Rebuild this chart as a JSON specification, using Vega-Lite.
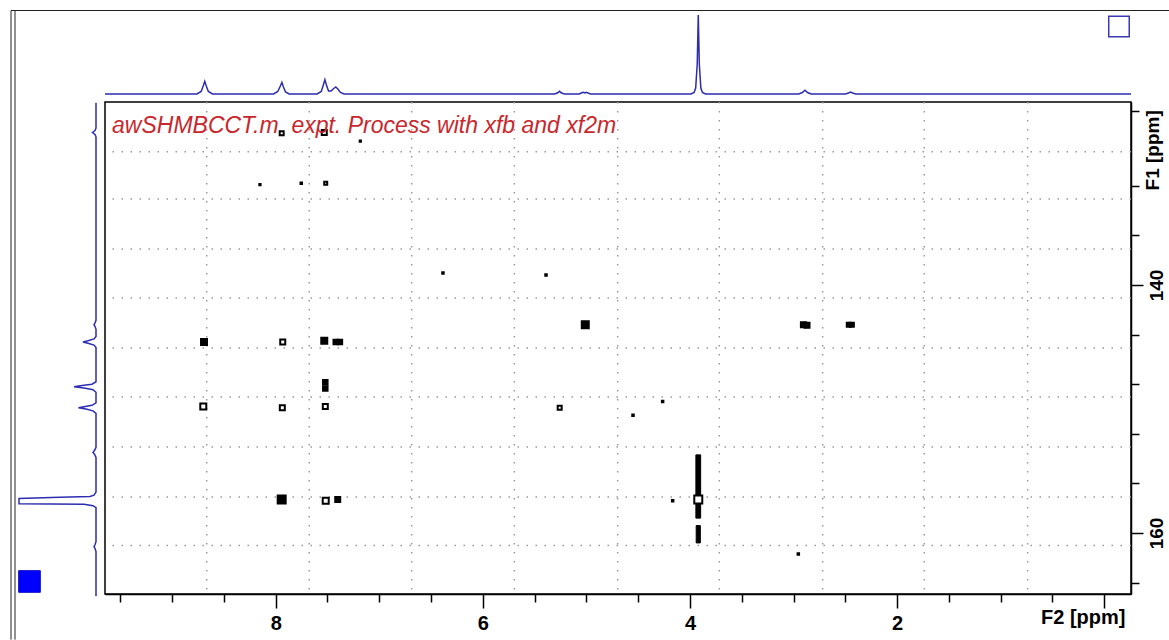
{
  "$schema": "https://vega.github.io/schema/vega-lite/v6.json",
  "padding": {"left": 8, "top": 10, "right": 0, "bottom": 0},
  "background": "white",
  "config": {"view": {"stroke": null}, "font": "Liberation Sans"},
  "columns": 2,
  "spacing": 0,
  "bounds": "flush",
  "align": "each",
  "datasets": {
    "peaks": [
      {"f2": 7.942, "f1": 127.77, "intensity": 1.6, "contour": "open"},
      {"f2": 7.531, "f1": 127.7, "intensity": 2.5, "contour": "open"},
      {"f2": 7.183, "f1": 128.4, "intensity": 0.3, "contour": "filled"},
      {"f2": 8.152, "f1": 131.9, "intensity": 0.3, "contour": "filled"},
      {"f2": 7.753, "f1": 131.8, "intensity": 0.4, "contour": "filled"},
      {"f2": 7.517, "f1": 131.8, "intensity": 0.9, "contour": "open"},
      {"f2": 6.385, "f1": 139.03, "intensity": 0.4, "contour": "filled"},
      {"f2": 5.39, "f1": 139.2, "intensity": 0.4, "contour": "filled"},
      {"f2": 5.011, "f1": 143.2, "intensity": 5.6, "contour": "filled"},
      {"f2": 2.905, "f1": 143.2, "intensity": 3.0, "contour": "filled"},
      {"f2": 2.87, "f1": 143.25, "intensity": 3.0, "contour": "filled"},
      {"f2": 2.467, "f1": 143.2, "intensity": 2.0, "contour": "filled"},
      {"f2": 2.437, "f1": 143.2, "intensity": 2.0, "contour": "filled"},
      {"f2": 8.692, "f1": 144.6, "intensity": 4.2, "contour": "filled"},
      {"f2": 7.932, "f1": 144.6, "intensity": 2.5, "contour": "open"},
      {"f2": 7.531, "f1": 144.5, "intensity": 4.2, "contour": "filled"},
      {"f2": 7.42, "f1": 144.6, "intensity": 2.5, "contour": "filled"},
      {"f2": 7.38, "f1": 144.6, "intensity": 2.5, "contour": "filled"},
      {"f2": 7.521, "f1": 147.85, "intensity": 2.5, "contour": "filled"},
      {"f2": 7.521, "f1": 148.35, "intensity": 2.5, "contour": "filled"},
      {"f2": 8.699, "f1": 149.8, "intensity": 3.6, "contour": "open"},
      {"f2": 7.936, "f1": 149.9, "intensity": 2.5, "contour": "open"},
      {"f2": 7.521, "f1": 149.8, "intensity": 2.5, "contour": "open"},
      {"f2": 5.258, "f1": 149.9, "intensity": 1.6, "contour": "open"},
      {"f2": 4.55, "f1": 150.5, "intensity": 0.4, "contour": "filled"},
      {"f2": 4.264, "f1": 149.4, "intensity": 0.4, "contour": "filled"},
      {"f2": 7.942, "f1": 157.3, "intensity": 7.2, "contour": "filled"},
      {"f2": 7.517, "f1": 157.4, "intensity": 3.6, "contour": "open"},
      {"f2": 7.401, "f1": 157.3, "intensity": 3.0, "contour": "filled"},
      {"f2": 3.92, "f1": 157.3, "intensity": 6.4, "contour": "open"},
      {"f2": 4.167, "f1": 157.4, "intensity": 0.4, "contour": "filled"},
      {"f2": 2.954, "f1": 161.7, "intensity": 0.4, "contour": "filled"}
    ]
  },
  "concat": [
    {
      "width": 97,
      "height": 92,
      "data": {"values": [{}]},
      "layer": [
        {
          "mark": {"type": "rule", "color": "#222222", "strokeWidth": 1},
          "encoding": {
            "x": {"datum": 85, "type": "quantitative", "scale": {"domain": [-9, 88], "reverse": true, "nice": false, "zero": false}, "axis": null},
            "y": {"datum": -8, "type": "quantitative", "scale": {"domain": [-8, 84], "nice": false, "zero": false}, "axis": null},
            "y2": {"datum": 83.5}
          }
        },
        {
          "mark": {"type": "rule", "color": "#222222", "strokeWidth": 1},
          "encoding": {
            "x": {"datum": 81, "type": "quantitative"},
            "y": {"datum": -8, "type": "quantitative"},
            "y2": {"datum": 83.5}
          }
        },
        {
          "mark": {"type": "rule", "color": "#222222", "strokeWidth": 1},
          "encoding": {
            "y": {"datum": 83.5, "type": "quantitative"},
            "x": {"datum": 85, "type": "quantitative"},
            "x2": {"datum": -9}
          }
        }
      ]
    },
    {
      "width": 1026,
      "height": 92,
      "layer": [
        {
          "data": {"values": [
            {"f2": 9.648, "i": 0}, {"f2": 8.76, "i": 0}, {"f2": 8.72, "i": 2.5}, {"f2": 8.7, "i": 8}, {"f2": 8.685, "i": 12.7}, {"f2": 8.67, "i": 8}, {"f2": 8.65, "i": 2.5}, {"f2": 8.61, "i": 0},
            {"f2": 8.02, "i": 0}, {"f2": 7.98, "i": 2.5}, {"f2": 7.955, "i": 8}, {"f2": 7.94, "i": 11.7}, {"f2": 7.925, "i": 7}, {"f2": 7.905, "i": 2}, {"f2": 7.87, "i": 0},
            {"f2": 7.6, "i": 0}, {"f2": 7.56, "i": 2.5}, {"f2": 7.54, "i": 9}, {"f2": 7.525, "i": 14.3}, {"f2": 7.51, "i": 9}, {"f2": 7.49, "i": 3}, {"f2": 7.465, "i": 3}, {"f2": 7.44, "i": 5.5}, {"f2": 7.42, "i": 7}, {"f2": 7.4, "i": 5}, {"f2": 7.375, "i": 1.5}, {"f2": 7.34, "i": 0},
            {"f2": 5.31, "i": 0}, {"f2": 5.28, "i": 1}, {"f2": 5.26, "i": 2.7}, {"f2": 5.24, "i": 1}, {"f2": 5.21, "i": 0},
            {"f2": 5.07, "i": 0}, {"f2": 5.045, "i": 1.2}, {"f2": 5.03, "i": 1.7}, {"f2": 5.015, "i": 1}, {"f2": 5.0, "i": 1.6}, {"f2": 4.985, "i": 1}, {"f2": 4.96, "i": 0},
            {"f2": 3.99, "i": 0}, {"f2": 3.96, "i": 1.5}, {"f2": 3.945, "i": 6}, {"f2": 3.93, "i": 30}, {"f2": 3.92, "i": 79}, {"f2": 3.91, "i": 30}, {"f2": 3.895, "i": 6}, {"f2": 3.88, "i": 1.5}, {"f2": 3.85, "i": 0},
            {"f2": 2.95, "i": 0}, {"f2": 2.915, "i": 1.5}, {"f2": 2.89, "i": 3.7}, {"f2": 2.865, "i": 1.5}, {"f2": 2.83, "i": 0},
            {"f2": 2.5, "i": 0}, {"f2": 2.47, "i": 1}, {"f2": 2.45, "i": 2}, {"f2": 2.43, "i": 1}, {"f2": 2.4, "i": 0},
            {"f2": -0.258, "i": 0}
          ]},
          "mark": {"type": "line", "color": "#2d2db0", "strokeWidth": 1.5},
          "encoding": {
            "x": {"field": "f2", "type": "quantitative", "scale": {"domain": [-0.258, 9.648], "reverse": true, "nice": false, "zero": false}, "axis": null},
            "y": {"field": "i", "type": "quantitative", "scale": {"domain": [-8, 84], "nice": false, "zero": false}, "axis": null}
          }
        },
        {
          "data": {"values": [{"f2": -0.142, "i": 67.5}]},
          "mark": {"type": "point", "shape": "square", "size": 420, "filled": false, "stroke": "#3a3ab0", "strokeWidth": 1.5, "opacity": 1},
          "encoding": {
            "x": {"field": "f2", "type": "quantitative"},
            "y": {"field": "i", "type": "quantitative"}
          }
        },
        {
          "data": {"values": [{}]},
          "mark": {"type": "rule", "color": "#222222", "strokeWidth": 1},
          "encoding": {
            "y": {"datum": 83.5, "type": "quantitative"},
            "x": {"datum": 9.648, "type": "quantitative"},
            "x2": {"datum": -0.63}
          }
        }
      ]
    },
    {
      "width": 97,
      "height": 492,
      "layer": [
        {
          "data": {"values": [
            {"f1": 125.3, "i": 0}, {"f1": 127.35, "i": 0}, {"f1": 127.55, "i": 1}, {"f1": 127.7, "i": 3.5}, {"f1": 127.85, "i": 1}, {"f1": 128.05, "i": 0},
            {"f1": 142.85, "i": 0}, {"f1": 143.05, "i": 1}, {"f1": 143.2, "i": 2}, {"f1": 143.35, "i": 1}, {"f1": 143.55, "i": 0},
            {"f1": 144.15, "i": 0}, {"f1": 144.35, "i": 2}, {"f1": 144.5, "i": 8}, {"f1": 144.6, "i": 13}, {"f1": 144.7, "i": 8}, {"f1": 144.85, "i": 2}, {"f1": 145.05, "i": 0},
            {"f1": 147.8, "i": 0}, {"f1": 148.0, "i": 4}, {"f1": 148.1, "i": 14}, {"f1": 148.2, "i": 22}, {"f1": 148.3, "i": 12}, {"f1": 148.45, "i": 3}, {"f1": 148.65, "i": 0},
            {"f1": 149.5, "i": 0}, {"f1": 149.7, "i": 4}, {"f1": 149.82, "i": 12}, {"f1": 149.9, "i": 17.5}, {"f1": 150.0, "i": 10}, {"f1": 150.15, "i": 3}, {"f1": 150.35, "i": 0},
            {"f1": 153.1, "i": 0}, {"f1": 153.35, "i": 1.5}, {"f1": 153.5, "i": 3}, {"f1": 153.65, "i": 1.5}, {"f1": 153.9, "i": 0},
            {"f1": 156.7, "i": 0}, {"f1": 156.95, "i": 2}, {"f1": 157.05, "i": 6}, {"f1": 157.12, "i": 36}, {"f1": 157.22, "i": 77}, {"f1": 157.64, "i": 77}, {"f1": 157.68, "i": 12}, {"f1": 157.8, "i": 3}, {"f1": 157.95, "i": 0},
            {"f1": 160.7, "i": 0}, {"f1": 160.95, "i": 1}, {"f1": 161.1, "i": 2}, {"f1": 161.25, "i": 1}, {"f1": 161.5, "i": 0},
            {"f1": 165.1, "i": 0}
          ]},
          "mark": {"type": "line", "color": "#2d2db0", "strokeWidth": 1.5},
          "encoding": {
            "y": {"field": "f1", "type": "quantitative", "scale": {"domain": [125.24, 164.92], "reverse": true, "nice": false, "zero": false}, "axis": null},
            "x": {"field": "i", "type": "quantitative", "scale": {"domain": [-9, 88], "reverse": true, "nice": false, "zero": false}, "axis": null},
            "order": {"field": "f1"}
          }
        },
        {
          "data": {"values": [{"f1": 163.91, "i": 66.5}]},
          "mark": {"type": "point", "shape": "square", "size": 470, "filled": true, "fill": "#0000ff", "stroke": "#1010c0", "strokeWidth": 1, "opacity": 1},
          "encoding": {
            "y": {"field": "f1", "type": "quantitative"},
            "x": {"field": "i", "type": "quantitative"}
          }
        },
        {
          "data": {"values": [{}]},
          "mark": {"type": "rule", "color": "#222222", "strokeWidth": 1},
          "encoding": {
            "x": {"datum": 85, "type": "quantitative"},
            "y": {"datum": 125.24, "type": "quantitative"},
            "y2": {"datum": 168.6}
          }
        },
        {
          "data": {"values": [{}]},
          "mark": {"type": "rule", "color": "#222222", "strokeWidth": 1},
          "encoding": {
            "x": {"datum": 81, "type": "quantitative"},
            "y": {"datum": 125.24, "type": "quantitative"},
            "y2": {"datum": 168.6}
          }
        }
      ]
    },
    {
      "width": 1026,
      "height": 492,
      "view": {"stroke": "black", "strokeWidth": 1.5},
      "layer": [
        {
          "data": {"values": [{"f2": 8.666}, {"f2": 7.676}, {"f2": 6.687}, {"f2": 5.696}, {"f2": 4.698}, {"f2": 3.717}, {"f2": 2.719}, {"f2": 1.738}, {"f2": 0.74}]},
          "mark": {"type": "rule", "color": "#9a9a9a", "strokeWidth": 1.5, "strokeDash": [1.5, 7.5]},
          "encoding": {
            "x": {
              "field": "f2", "type": "quantitative",
              "scale": {"domain": [-0.258, 9.648], "reverse": true, "nice": false, "zero": false},
              "axis": {
                "title": null, "orient": "bottom", "grid": false,
                "values": [-0.2, 0, 0.5, 1, 1.5, 2, 2.5, 3, 3.5, 4, 4.5, 5, 5.5, 6, 6.5, 7, 7.5, 8, 8.5, 9, 9.5],
                "domainColor": "black", "domainWidth": 1.5,
                "tickColor": "black", "tickWidth": 1.5,
                "tickSize": {"condition": {"test": "datum.value % 2 === 0", "value": 14}, "value": 8},
                "tickOpacity": {"condition": {"test": "datum.value < -0.1", "value": 0}, "value": 1},
                "labelExpr": "datum.value < -0.1 ? 'F2 [ppm]' : (datum.value === 0 ? '' : (datum.value % 2 === 0 ? format(datum.value, 'd') : ''))",
                "labelAlign": {"condition": {"test": "datum.value < -0.1", "value": "right"}, "value": "center"},
                "labelFont": "Liberation Sans", "labelFontSize": 20, "labelFontWeight": "bold", "labelColor": "black",
                "labelPadding": 5, "labelFlush": false, "labelOverlap": false, "labelBound": false
              }
            }
          }
        },
        {
          "data": {"values": [{"f1": 129.25}, {"f1": 133.06}, {"f1": 137.1}, {"f1": 141.05}, {"f1": 145.08}, {"f1": 149.03}, {"f1": 153.06}, {"f1": 157.1}, {"f1": 161.0}]},
          "mark": {"type": "rule", "color": "#9a9a9a", "strokeWidth": 1.5, "strokeDash": [1.5, 7.5]},
          "encoding": {
            "y": {
              "field": "f1", "type": "quantitative",
              "scale": {"domain": [125.24, 164.92], "reverse": true, "nice": false, "zero": false},
              "axis": {
                "title": null, "orient": "right", "grid": false,
                "values": [126, 128, 129.1, 130, 132, 134, 136, 138, 140, 142, 144, 146, 148, 150, 152, 154, 156, 158, 160, 162, 164],
                "domainColor": "black", "domainWidth": 1.5,
                "tickColor": "black", "tickWidth": 1.5,
                "tickSize": {"condition": {"test": "datum.value % 10 === 0", "value": 12}, "value": 8},
                "tickOpacity": {"condition": {"test": "datum.value === 129.1", "value": 0}, "value": 1},
                "labelExpr": "datum.value === 129.1 ? 'F1 [ppm]' : ((datum.value % 10 === 0 && datum.value !== 130) ? format(datum.value, 'd') : '')",
                "labelAngle": 270, "labelAlign": "center", "labelBaseline": "top",
                "labelFont": "Liberation Sans", "labelFontSize": 19, "labelFontWeight": "bold", "labelColor": "black",
                "labelPadding": 4, "labelFlush": false, "labelOverlap": false, "labelBound": false
              }
            }
          }
        },
        {
          "data": {"values": [
            {"f2a": 3.943, "f2b": 3.897, "f1a": 153.7, "f1b": 158.8},
            {"f2a": 3.94, "f2b": 3.9, "f1a": 159.4, "f1b": 160.8}
          ]},
          "mark": {"type": "rect", "fill": "black", "stroke": "black", "strokeWidth": 1},
          "encoding": {
            "x": {"field": "f2a", "type": "quantitative"},
            "x2": {"field": "f2b"},
            "y": {"field": "f1a", "type": "quantitative"},
            "y2": {"field": "f1b"}
          }
        },
        {
          "data": {"name": "peaks"},
          "transform": [{"filter": "datum.contour === 'open'"}],
          "mark": {"type": "point", "shape": "square", "filled": true, "fill": "white", "stroke": "black", "strokeWidth": 2, "opacity": 1},
          "encoding": {
            "x": {"field": "f2", "type": "quantitative"},
            "y": {"field": "f1", "type": "quantitative"},
            "size": {"field": "intensity", "type": "quantitative", "scale": {"domain": [0, 10], "range": [0, 100]}, "legend": null}
          }
        },
        {
          "data": {"name": "peaks"},
          "transform": [{"filter": "datum.contour === 'filled'"}],
          "mark": {"type": "point", "shape": "square", "filled": true, "fill": "black", "stroke": "black", "strokeWidth": 1.5, "opacity": 1},
          "encoding": {
            "x": {"field": "f2", "type": "quantitative"},
            "y": {"field": "f1", "type": "quantitative"},
            "size": {"field": "intensity", "type": "quantitative", "scale": {"domain": [0, 10], "range": [0, 100]}, "legend": null}
          }
        },
        {
          "data": {"values": [{"f2": 9.58, "f1": 127.75, "label": "awSHMBCCT.m\u00a0 expt. Process with xfb and xf2m"}]},
          "mark": {"type": "text", "align": "left", "baseline": "alphabetic", "font": "Liberation Sans", "fontStyle": "italic", "fontSize": 23, "color": "#c8282d"},
          "encoding": {
            "x": {"field": "f2", "type": "quantitative"},
            "y": {"field": "f1", "type": "quantitative"},
            "text": {"field": "label"}
          }
        }
      ]
    }
  ]
}
